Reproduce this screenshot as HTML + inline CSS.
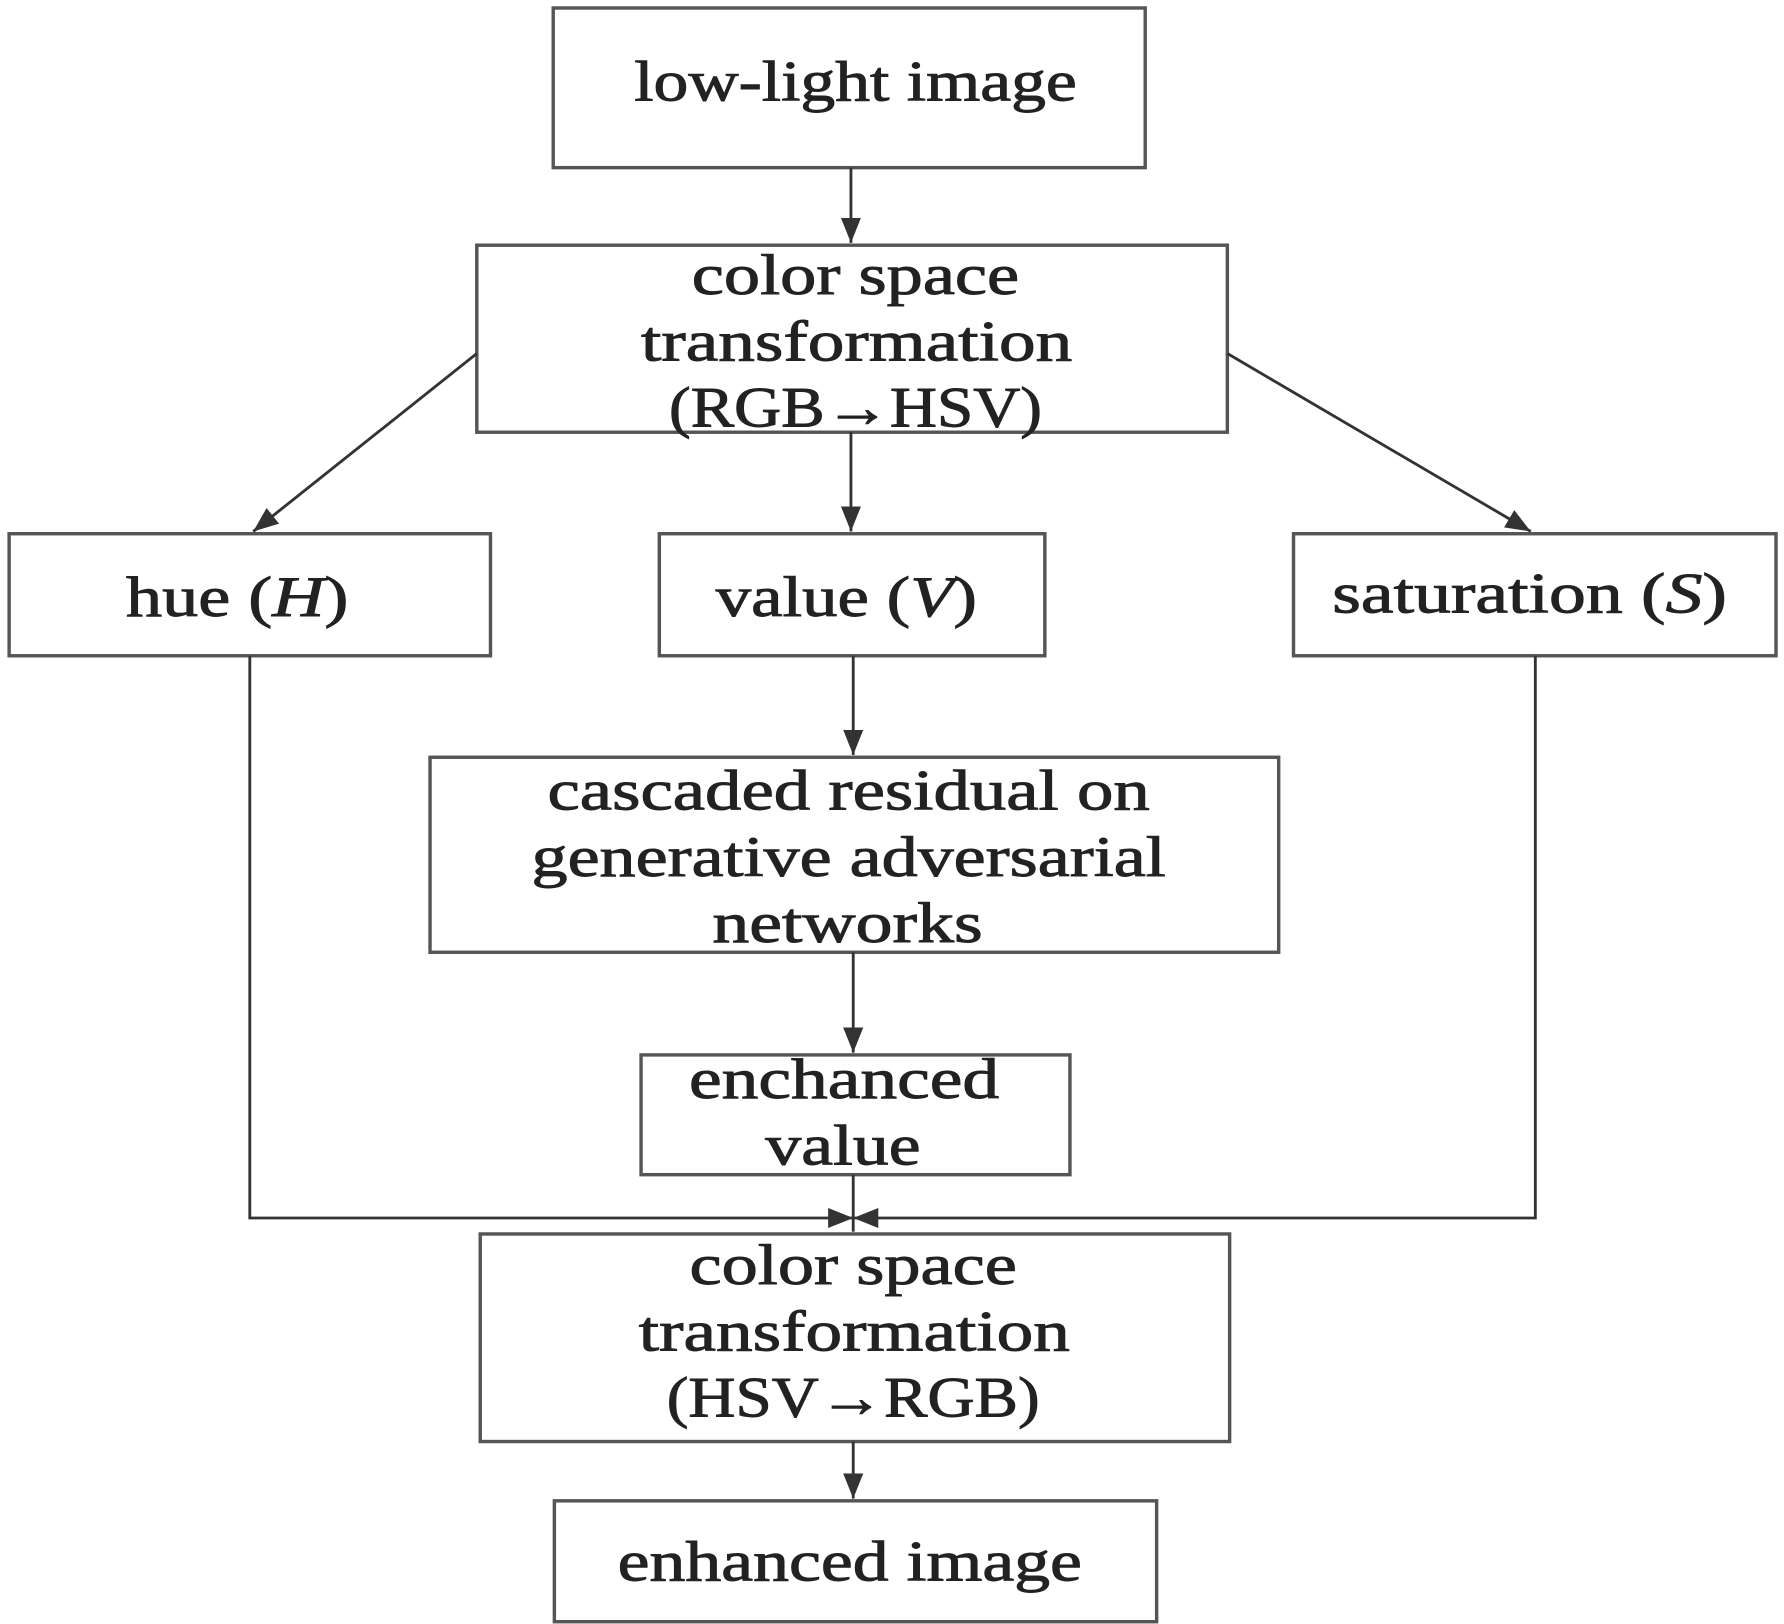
<!DOCTYPE html>
<html><head><meta charset="utf-8"><style>
html,body{margin:0;padding:0;background:#fff;}
svg{display:block;}
text{font-family:"Liberation Serif",serif;font-size:50px;fill:#222;stroke:#222;stroke-width:0.8px;text-anchor:middle;}
</style></head><body>
<svg width="1784" height="1624" viewBox="0 0 1564 1424" preserveAspectRatio="none" xmlns="http://www.w3.org/2000/svg">
<defs>
<marker id="b" viewBox="0 0 10 10" refX="10" refY="5" markerWidth="22" markerHeight="22" markerUnits="userSpaceOnUse" orient="auto"><path d="M0,1 L10,5 L0,9 z" fill="#333"/></marker></defs>
<g fill="none" stroke="#555" stroke-width="3">
<rect x="485" y="7" width="519" height="140"/>
<rect x="418" y="215" width="658" height="164"/>
<rect x="8" y="468" width="422" height="107"/>
<rect x="578" y="468" width="338" height="107"/>
<rect x="1134" y="468" width="423" height="107"/>
<rect x="377" y="664" width="744" height="171"/>
<rect x="562" y="925" width="376" height="105"/>
<rect x="421" y="1082" width="657" height="182"/>
<rect x="486" y="1316" width="528" height="106"/>
</g>
<g stroke="#333" stroke-width="2.5" fill="none">
<line x1="746" y1="147" x2="746" y2="213" marker-end="url(#b)"/>
<line x1="418" y1="310" x2="222" y2="466" marker-end="url(#b)"/>
<line x1="746" y1="379" x2="746" y2="466" marker-end="url(#b)"/>
<line x1="1076" y1="310" x2="1342" y2="466" marker-end="url(#b)"/>
<line x1="748" y1="575" x2="748" y2="662" marker-end="url(#b)"/>
<line x1="748" y1="835" x2="748" y2="923" marker-end="url(#b)"/>
<line x1="748" y1="1030" x2="748" y2="1080"/>
<polyline points="219,575 219,1068 748,1068" marker-end="url(#b)"/>
<polyline points="1346,575 1346,1068 748,1068" marker-end="url(#b)"/>
<line x1="748" y1="1264" x2="748" y2="1314" marker-end="url(#b)"/>
</g>
<text x="750" y="88" textLength="388" lengthAdjust="spacingAndGlyphs">low-light image</text>
<text x="750" y="258" textLength="287" lengthAdjust="spacingAndGlyphs">color space</text>
<text x="751" y="316" textLength="378" lengthAdjust="spacingAndGlyphs">transformation</text>
<text x="750" y="374" textLength="327" lengthAdjust="spacingAndGlyphs">(RGB→HSV)</text>
<text x="208" y="540" textLength="195" lengthAdjust="spacingAndGlyphs">hue (<tspan font-style="italic">H</tspan>)</text>
<text x="742" y="540" textLength="229" lengthAdjust="spacingAndGlyphs">value (<tspan font-style="italic">V</tspan>)</text>
<text x="1341" y="537" textLength="346" lengthAdjust="spacingAndGlyphs">saturation (<tspan font-style="italic">S</tspan>)</text>
<text x="744" y="710" textLength="528" lengthAdjust="spacingAndGlyphs">cascaded residual on</text>
<text x="744" y="768" textLength="556" lengthAdjust="spacingAndGlyphs">generative adversarial</text>
<text x="743" y="826" textLength="237" lengthAdjust="spacingAndGlyphs">networks</text>
<text x="740" y="963" textLength="272" lengthAdjust="spacingAndGlyphs">enchanced</text>
<text x="739" y="1021" textLength="136" lengthAdjust="spacingAndGlyphs">value</text>
<text x="748" y="1126" textLength="287" lengthAdjust="spacingAndGlyphs">color space</text>
<text x="749" y="1184" textLength="378" lengthAdjust="spacingAndGlyphs">transformation</text>
<text x="748" y="1242" textLength="327" lengthAdjust="spacingAndGlyphs">(HSV→RGB)</text>
<text x="745" y="1386" textLength="407" lengthAdjust="spacingAndGlyphs">enhanced image</text>
</svg>
</body></html>
